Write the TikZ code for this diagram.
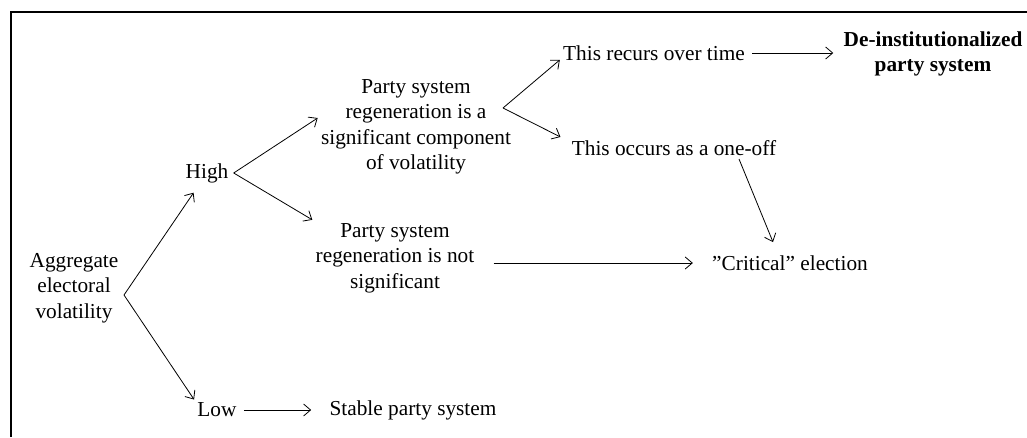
\documentclass[tikz,border=0pt]{standalone}
\usepackage{fontspec}
\setmainfont{Liberation Serif}
\usetikzlibrary{arrows.meta,positioning}
\newcommand*\figfont{\fontsize{21.3}{25.5}\selectfont}

\begin{document}
\begin{tikzpicture}[x=1pt,y=1pt,->,>={Straight Barb[length=7pt,width=12pt]},
		line width=0.8pt, font=\figfont, align=center, inner sep=3pt]
		\useasboundingbox (0,0) rectangle (1027,437);
		\draw[-,line width=2pt] (10.7,0) -- (10.7,425) -- (1027,425);

		\node (agg)      at (74,149)  {Aggregate\\ electoral\\ volatility};
		\node (high)     at (207,264) {High};
		\node (low)      at (217,27)  {Low};
		\node (stable)   at (413,27)  {Stable party system};
		\node (partyA)   at (416,310) {Party system\\ regeneration is a\\ significant component\\ of volatility};
		\node (partyB)   at (395,179) {Party system\\ regeneration is not\\ significant};
		\node (recurs)   at (654,384) {This recurs over time};
		\node (oneoff)   at (674,289) {This occurs as a one-off};
		\node (critical) at (790,174) {\symbol{34}Critical\symbol{34} election};
		\node[font=\figfont\bfseries] (deinst) at (933,383) {De-institutionalized\\ party system};

		\coordinate (aggfork) at (124,142);
		\coordinate[right=2pt of high] (highfork);
		\coordinate (forkA) at (503,329);

		\draw[shorten >=8pt] (aggfork) -- (high);
		\draw (aggfork) -- (low.north west);
		\draw (highfork) -- ([yshift=9pt]partyA.west);
		\draw (highfork) -- (partyB.north west);
		\draw (forkA) -- ([yshift=4pt]recurs.south west);
		\draw (forkA) -- ([xshift=-8pt]oneoff.north west);
		\draw[shorten <=4pt, shorten >=7pt] (recurs.east) -- (recurs.east -| deinst.west);
		\draw ([xshift=65pt]oneoff.south) -- ([xshift=-17pt,yshift=10pt]critical.north);
		\draw[shorten <=16pt, shorten >=16pt] (partyB.east |- critical.west) -- (critical.west);
		\draw[shorten <=4pt, shorten >=15pt] (low.east) -- (stable.west);
\end{tikzpicture}
\end{document}
